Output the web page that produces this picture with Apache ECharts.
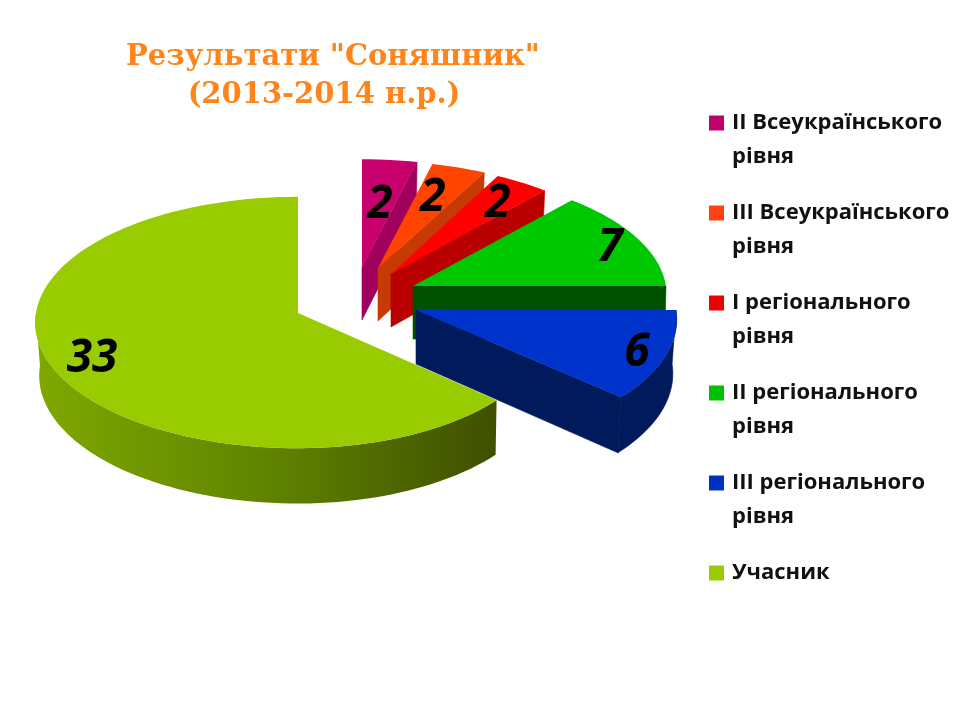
<!DOCTYPE html>
<html>
<head>
<meta charset="utf-8">
<style>html,body{margin:0;background:#fff}#main{width:960px;height:720px}</style>
<script src="https://cdn.jsdelivr.net/npm/echarts@6/dist/echarts.min.js"></script>
</head>
<body>
<div id="main"></div>
<script>
const categories = ['II Всеукраїнського\nрівня', 'III Всеукраїнського\nрівня', 'I регіонального\nрівня', 'II регіонального\nрівня', 'III регіонального\nрівня', 'Учасник'];
const values = [2, 2, 2, 7, 6, 33];
const titleLines = ['Результати "Соняшник"', '(2013-2014 н.р.)'];

const topColors = ['#c8006e', '#ff4400', '#ff0000', '#00c800', '#0033cc', '#99cc00'];
const wallColors = ['#a0005c', '#c83a04', '#b80000', '#005000', '#001a5c', null];
const legendColors = ['#c0006c', '#ff4010', '#ee0000', '#00c000', '#0030c0', '#99cc00'];

// hand-placed exploded slices: tip on screen, radii of the tilted disc, label offset from the tip
const layouts = [
	{tip: [362, 267], rx: 247, ry: 116, depth: 53, shrink: 0.985, label: [18, -62]},
	{tip: [378, 268], rx: 244, ry: 115, depth: 53, shrink: 0.985, label: [55, -70]},
	{tip: [391, 274], rx: 245, ry: 118, depth: 53, shrink: 0.985, label: [107, -70]},
	{tip: [413, 286], rx: 253, ry: 121, depth: 53, shrink: 0.995, label: [197, -38]},
	{tip: [416, 310], rx: 260, ry: 125, depth: 54, shrink: 0.985, label: [221, 43]},
	{tip: [298, 313], rx: 252, rxLeft: 262, ry: 125, depth: 53, shrink: 0.995, shrinkLeft: 0.985, label: [-206, 46]}
];

const PERSPECTIVE = 0.0757;

const total = values.reduce((a, b) => a + b, 0);

function surfacePoint(lay, deg) {
	const rad = deg * Math.PI / 180;
	const x = Math.sin(rad);
	const z = -Math.cos(rad);
	const s = 1 / (1 - PERSPECTIVE * z);
	const rx = x < 0 && lay.rxLeft ? lay.rxLeft : lay.rx;
	return {dx: rx * x * s, dy: lay.ry * z * s, s: s};
}

function topOf(lay, p) {
	return [lay.tip[0] + p.dx, lay.tip[1] + p.dy];
}

function bottomOf(lay, p) {
	const sx = p.dx < 0 && lay.shrinkLeft ? lay.shrinkLeft : lay.shrink;
	return [lay.tip[0] + p.dx * sx, lay.tip[1] + p.dy * 0.985 + lay.depth * p.s];
}

function arcAngles(from, to) {
	const out = [];
	for (let a = from; a < to; a += 2) {
		out.push(a);
	}
	out.push(to);
	return out;
}

function makeRenderItem(idx) {
	return function(params, api) {
		const lay = layouts[idx];
		const before = values.slice(0, idx).reduce((a, b) => a + b, 0);
		const a0 = before / total * 360;
		const a1 = (before + api.value(0)) / total * 360;
		const tipPoint = {dx: 0, dy: 0, s: 1};
		const children = [];

		// straight cut facing the viewer
		if (a1 < 180) {
			const end = surfacePoint(lay, a1);
			children.push({
				type: 'polygon',
				shape: {points: [topOf(lay, tipPoint), topOf(lay, end), bottomOf(lay, end), bottomOf(lay, tipPoint)]},
				style: {fill: wallColors[idx], stroke: wallColors[idx], lineWidth: 0.6}
			});
		}

		// outer wall, only the front half shows
		const wallFrom = Math.max(a0, 90);
		const wallTo = Math.min(a1, 270);
		if (wallFrom < wallTo) {
			const angles = arcAngles(wallFrom, wallTo).map((a) => surfacePoint(lay, a));
			const points = angles.map((p) => topOf(lay, p)).concat(angles.slice().reverse().map((p) => bottomOf(lay, p)));
			const fill = idx === 5 ? new echarts.graphic.LinearGradient(0, 0, 1, 0, [
				{offset: 0, color: '#7fa800'},
				{offset: 0.5, color: '#608400'},
				{offset: 1, color: '#3f4f00'}
			]) : wallColors[idx];
			children.push({type: 'polygon', shape: {points: points}, style: {fill: fill, stroke: idx === 5 ? null : fill, lineWidth: 0.6}});
		}

		const rim = arcAngles(a0, a1).map((a) => topOf(lay, surfacePoint(lay, a)));
		children.push({
			type: 'polygon',
			shape: {points: [topOf(lay, tipPoint)].concat(rim)},
			style: {fill: topColors[idx]}
		});

		children.push({
			type: 'text',
			style: {
				x: lay.tip[0] + lay.label[0],
				y: lay.tip[1] + lay.label[1],
				text: String(api.value(0)),
				font: 'italic bold 46px "Open Sans", "Noto Sans", sans-serif',
				fill: '#000',
				align: 'center',
				verticalAlign: 'middle'
			}
		});
		return {type: 'group', children: children};
	};
}

const myChart = echarts.init(document.getElementById('main'), null, {renderer: 'canvas'});

const seriesList = categories.map((name, i) => ({
	type: 'custom',
	name: name,
	coordinateSystem: 'none',
	renderItem: makeRenderItem(i),
	data: [values[i]],
	silent: true,
	animation: false,
	itemStyle: {color: legendColors[i]}
}));

const titleFont = {
	fontFamily: '"DejaVu Serif", serif',
	fontWeight: 'bold',
	fontSize: 29,
	color: '#ff8419'
};

myChart.setOption({
	backgroundColor: '#fff',
	animation: false,
	title: [
		{text: titleLines[0], left: 333, top: 43, textAlign: 'center', padding: 0, textStyle: titleFont},
		{text: titleLines[1], left: 324, top: 81, textAlign: 'center', padding: 0, textStyle: titleFont}
	],
	legend: {
		orient: 'vertical',
		left: 709,
		top: 72,
		padding: 0,
		icon: 'rect',
		itemWidth: 15,
		itemHeight: 15,
		itemGap: -12,
		align: 'left',
		selectedMode: false,
		data: categories,
		// blank line on top keeps the swatch level with the first text line
		formatter: (name) => name.indexOf('\n') >= 0 ? '\n' + name : '\n' + name + '\n',
		textStyle: {
			fontFamily: '"Open Sans", "Noto Sans", sans-serif',
			fontWeight: 'bold',
			fontSize: 22,
			lineHeight: 34,
			color: '#111',
			padding: [0, 0, 0, 3]
		}
	},
	series: seriesList
});
</script>
</body>
</html>
